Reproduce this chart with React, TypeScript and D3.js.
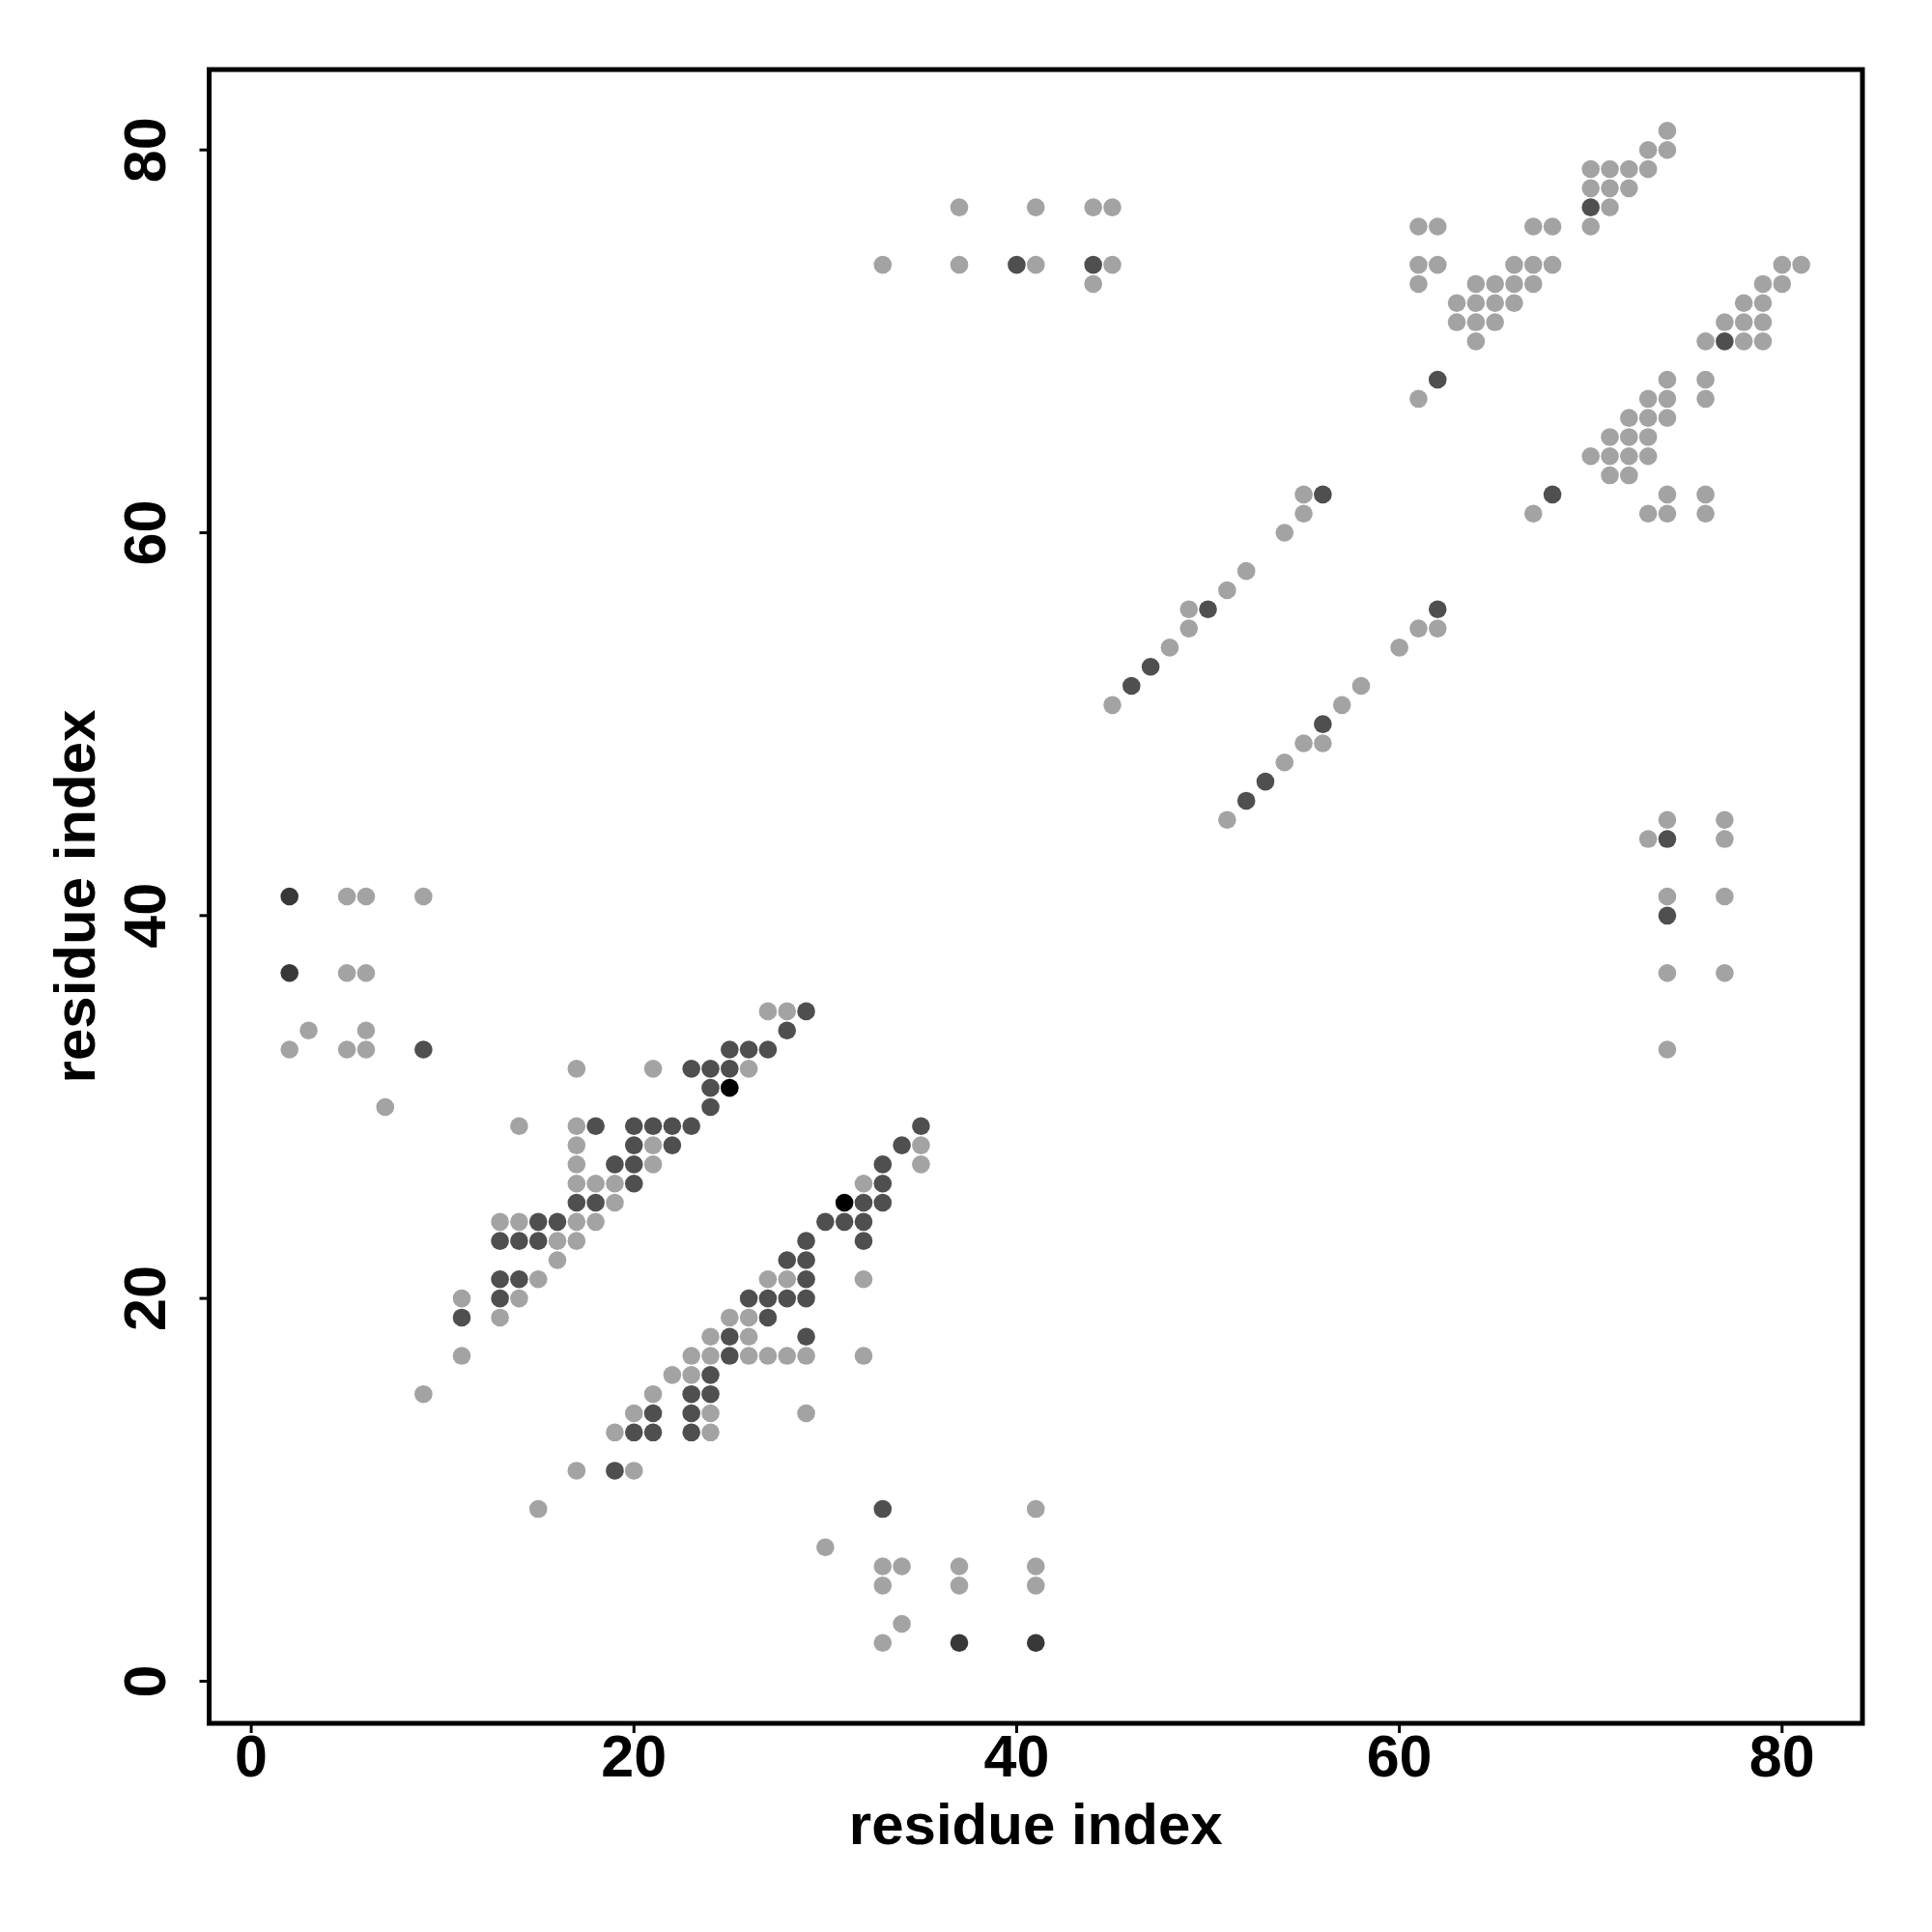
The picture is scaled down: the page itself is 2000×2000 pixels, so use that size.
import React from "react";
import * as d3 from "d3";

const lightPoints: [number, number][] = [
  [5, 41], [6, 41], [9, 41], [5, 37], [6, 37], [3, 34], [6, 34], [2, 33], [5, 33], [6, 33], [7, 30], [14, 29], [17, 32],
  [27, 35], [28, 35], [21, 32], [26, 32], [17, 29],
  [17, 28], [21, 28], [35, 28],
  [17, 27], [21, 27], [35, 27],
  [17, 26], [18, 26], [19, 26], [32, 26],
  [19, 25],
  [13, 24], [14, 24], [17, 24], [18, 24],
  [16, 23], [17, 23],
  [16, 22],
  [15, 21], [27, 21], [28, 21], [32, 21],
  [11, 20], [14, 20],
  [13, 19], [25, 19], [26, 19],
  [24, 18], [26, 18],
  [11, 17], [23, 17], [24, 17], [26, 17], [27, 17], [28, 17], [29, 17], [32, 17],
  [22, 16], [23, 16],
  [9, 15], [21, 15],
  [20, 14], [24, 14], [29, 14],
  [19, 13], [24, 13],
  [17, 11], [20, 11],
  [15, 9], [41, 9],
  [30, 7],
  [33, 6], [34, 6], [37, 6], [41, 6],
  [33, 5], [37, 5], [41, 5],
  [34, 3],
  [33, 2],
  [37, 77], [41, 77], [44, 77], [45, 77], [33, 74], [37, 74], [41, 74], [45, 74], [44, 73],
  [55, 62], [55, 61], [54, 60], [52, 58], [51, 57], [49, 56], [49, 55], [48, 54], [45, 51],
  [61, 55], [62, 55], [60, 54], [58, 52], [57, 51], [55, 49], [56, 49], [54, 48], [51, 45],
  [74, 81], [73, 80], [74, 80], [70, 79], [71, 79], [72, 79], [73, 79], [70, 78], [71, 78], [72, 78], [71, 77],
  [61, 76], [62, 76], [67, 76], [68, 76], [70, 76],
  [61, 74], [62, 74], [66, 74], [67, 74], [68, 74], [80, 74], [81, 74],
  [61, 73], [64, 73], [65, 73], [66, 73], [67, 73], [79, 73], [80, 73],
  [63, 72], [64, 72], [65, 72], [66, 72], [78, 72], [79, 72],
  [63, 71], [64, 71], [65, 71], [77, 71], [78, 71], [79, 71],
  [64, 70], [76, 70], [78, 70], [79, 70],
  [74, 68], [76, 68],
  [61, 67], [73, 67], [74, 67], [76, 67],
  [72, 66], [73, 66], [74, 66],
  [71, 65], [72, 65], [73, 65],
  [70, 64], [71, 64], [72, 64], [73, 64],
  [71, 63], [72, 63],
  [74, 62], [76, 62],
  [67, 61], [73, 61], [74, 61], [76, 61],
  [74, 45], [77, 45], [73, 44], [77, 44], [74, 41], [77, 41], [74, 37], [77, 37], [74, 33],
];

const darkPoints: [number, number][] = [
  [9, 33], [29, 35], [28, 34], [25, 33], [26, 33], [27, 33], [23, 32], [24, 32], [25, 32], [24, 31], [24, 30],
  [18, 29], [20, 29], [21, 29], [22, 29], [23, 29], [35, 29],
  [20, 28], [22, 28], [34, 28],
  [19, 27], [20, 27], [33, 27],
  [20, 26], [33, 26],
  [17, 25], [18, 25], [32, 25], [33, 25],
  [15, 24], [16, 24], [30, 24], [31, 24], [32, 24],
  [13, 23], [14, 23], [15, 23], [29, 23], [32, 23],
  [28, 22], [29, 22],
  [13, 21], [14, 21], [29, 21],
  [13, 20], [26, 20], [27, 20], [28, 20], [29, 20],
  [11, 19], [27, 19],
  [25, 18], [29, 18],
  [25, 17],
  [24, 16],
  [23, 15], [24, 15],
  [21, 14], [23, 14],
  [20, 13], [21, 13], [23, 13],
  [19, 11],
  [33, 9],
  [40, 74], [44, 74],
  [56, 62], [50, 56], [47, 53], [46, 52], [62, 56], [56, 50], [53, 47], [52, 46],
  [70, 77], [62, 68], [68, 62], [77, 70],
  [74, 44], [74, 40],
];

const darkerPoints: [number, number][] = [[2, 41], [2, 37], [37, 2], [41, 2]];
const blackPoints: [number, number][] = [[25, 31], [31, 25]];

const xTicks = [0, 20, 40, 60, 80];
const yTicks = [0, 20, 40, 60, 80];
const xLabel = "residue index";
const yLabel = "residue index";

const groups = [
  { pts: lightPoints, color: "#a3a3a3" },
  { pts: darkPoints, color: "#4f4f4f" },
  { pts: darkerPoints, color: "#383838" },
  { pts: blackPoints, color: "#000000" },
];

export default function App() {
  const left = 216.5, right = 1928, top = 72, bottom = 1784;
  const x = d3.scaleLinear().domain([-2.2, 84.2]).range([left, right]);
  const y = d3.scaleLinear().domain([-2.2, 84.2]).range([bottom, top]);
  const font = "'Liberation Sans', Arial, Helvetica, sans-serif";
  return (
    <svg width={2000} height={2000} style={{ position: "absolute", left: 0, top: 0, background: "#fff" }}>
      <rect x={0} y={0} width={2000} height={2000} fill="#fff" />
      {groups.map((g, gi) =>
        g.pts.map((p, i) => (
          <circle key={gi + "-" + i} cx={x(p[0])} cy={y(p[1])} r={9.3} fill={g.color} />
        ))
      )}
      <rect x={left} y={top} width={right - left} height={bottom - top} fill="none" stroke="#000" strokeWidth={5} />
      {xTicks.map((t) => (
        <g key={"x" + t}>
          <line x1={x(t)} x2={x(t)} y1={bottom} y2={bottom + 10} stroke="#000" strokeWidth={3} />
          <text x={x(t)} y={1839} textAnchor="middle" fontFamily={font} fontWeight="bold" fontSize={61}>{t}</text>
        </g>
      ))}
      {yTicks.map((t) => (
        <g key={"y" + t}>
          <line x1={left - 10} x2={left} y1={y(t)} y2={y(t)} stroke="#000" strokeWidth={3} />
          <text transform={`translate(171,${y(t)}) rotate(-90)`} textAnchor="middle" fontFamily={font} fontWeight="bold" fontSize={61}>{t}</text>
        </g>
      ))}
      <text x={(left + right) / 2} y={1909} textAnchor="middle" fontFamily={font} fontWeight="bold" fontSize={60}>{xLabel}</text>
      <text transform={`translate(98,${(top + bottom) / 2}) rotate(-90)`} textAnchor="middle" fontFamily={font} fontWeight="bold" fontSize={60}>{yLabel}</text>
    </svg>
  );
}
